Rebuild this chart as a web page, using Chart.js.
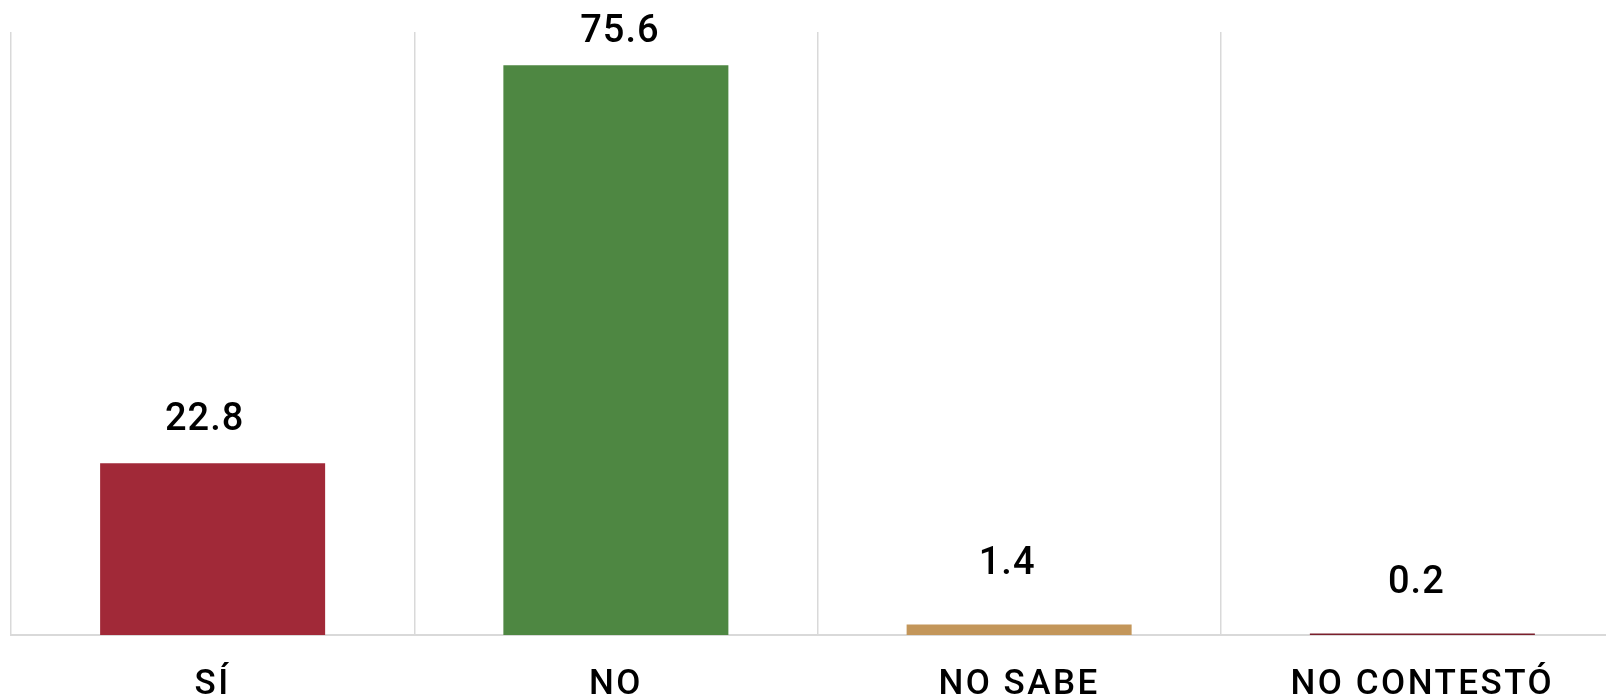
<!DOCTYPE html>
<html>
<head>
<meta charset="utf-8">
<script src="https://cdn.jsdelivr.net/npm/chart.js@4"></script>
<style>
  html, body { margin: 0; padding: 0; background: #fff; overflow: hidden; }
  /* plot runs past the right edge and labels past the bottom, as in the original crop */
  #wrap { width: 1624px; height: 735px; }
</style>
</head>
<body>
<div id="wrap"><canvas id="chart"></canvas></div>
<script>
// datos de la encuesta (porcentajes)
const categories = ['SÍ', 'NO', 'NO SABE', 'NO CONTESTÓ'];
const values = [22.8, 75.6, 1.4, 0.2];
const barColors = ['#a12938', '#4e8742', '#c3965a', '#7a1f2c'];

// label placement relative to the bar top (the original was nudged by hand)
const labelGaps = [43, 33, 60, 50];
const labelShift = [-8, 4, -12, -6];

const FONT = 'Roboto, "Liberation Sans", Arial, sans-serif';

// letter spacing for the axis text
const spacing = {
  id: 'spacing',
  beforeDraw(chart) {
    chart.ctx.letterSpacing = '2.5px';
  }
};

// simple value labels above each bar
const valueLabels = {
  id: 'valueLabels',
  afterDatasetsDraw(chart) {
    const ctx = chart.ctx;
    const meta = chart.getDatasetMeta(0);
    ctx.save();
    ctx.letterSpacing = '1px';
    ctx.font = '500 38px ' + FONT;
    ctx.fillStyle = '#000';
    ctx.textAlign = 'center';
    ctx.textBaseline = 'middle';
    meta.data.forEach((bar, i) => {
      ctx.fillText(values[i].toFixed(1), bar.x + labelShift[i], bar.y - labelGaps[i]);
    });
    ctx.restore();
  }
};

new Chart(document.getElementById('chart'), {
  type: 'bar',
  data: {
    labels: categories,
    datasets: [{
      data: values,
      backgroundColor: barColors,
      borderWidth: 0,
      barPercentage: 0.558,
      categoryPercentage: 1
    }]
  },
  options: {
    responsive: true,
    maintainAspectRatio: false,
    animation: false,
    layout: { padding: { left: 11, right: 0, top: 32, bottom: 0 } },
    plugins: {
      legend: { display: false },
      tooltip: { enabled: false }
    },
    scales: {
      x: {
        grid: {
          offset: true,
          color: '#d9d9d9',
          lineWidth: 1.5,
          drawTicks: false
        },
        border: { color: '#d9d9d9', width: 2 },
        ticks: {
          color: '#000',
          padding: 29,
          font: { family: FONT, size: 35, weight: '500' }
        }
      },
      y: {
        display: false,
        min: 0,
        max: 80
      }
    }
  },
  plugins: [spacing, valueLabels]
});
</script>
</body>
</html>
